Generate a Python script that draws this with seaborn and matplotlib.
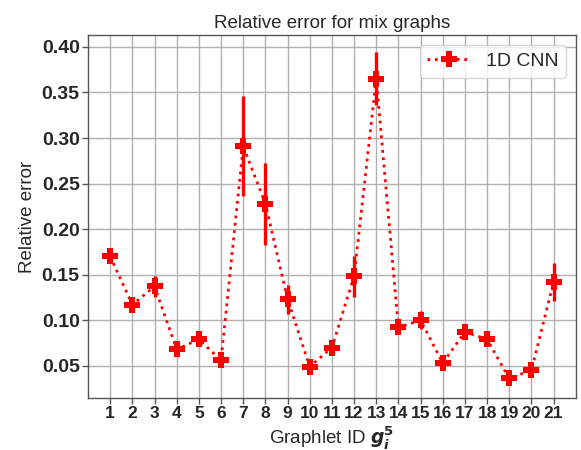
import numpy as np
import pandas as pd
import matplotlib
matplotlib.use("Agg")
import matplotlib.pyplot as plt
import seaborn as sns

graphlet_ids = list(range(1, 22))
rel_error = [0.170, 0.117, 0.137, 0.068, 0.079, 0.056, 0.291, 0.228, 0.123, 0.049,
             0.070, 0.148, 0.365, 0.092, 0.100, 0.053, 0.087, 0.079, 0.036, 0.045, 0.142]
err = [0.005, 0.006, 0.012, 0.005, 0.005, 0.005, 0.055, 0.045, 0.016, 0.004,
       0.004, 0.023, 0.029, 0.007, 0.010, 0.004, 0.005, 0.005, 0.004, 0.005, 0.021]
x_tick_labels = [str(i) for i in graphlet_ids]
y_ticks = [0.05, 0.10, 0.15, 0.20, 0.25, 0.30, 0.35, 0.40]

df = pd.DataFrame({"id": graphlet_ids, "err": rel_error, "sd": err})

sns.set_style("whitegrid")
plt.rcParams['font.family'] = ['Liberation Sans', 'DejaVu Sans']
plt.rcParams['mathtext.fontset'] = 'dejavusans'

fig = plt.figure(figsize=(5.81, 4.5), dpi=100)
ax = fig.add_axes([0.1515, 0.1156, 0.8395, 0.8064])

ax.errorbar(df["id"], df["err"], yerr=df["sd"], fmt="none", ecolor="red",
            elinewidth=2.4, capsize=0, zorder=3)
sns.lineplot(data=df, x="id", y="err", ax=ax, color="red", linestyle=":",
             linewidth=2, marker="P", markersize=11.5, markeredgewidth=0,
             label="1D CNN", zorder=4)

ax.set_xlim(0, 22)
ax.set_ylim(0.0146, 0.413)
ax.set_xticks(graphlet_ids)
ax.set_xticklabels(x_tick_labels, fontsize=12.5, fontweight="bold")
ax.set_yticks(y_ticks)
ax.set_yticklabels([f"{v:.2f}" for v in y_ticks], fontsize=14, fontweight="bold")
ax.tick_params(axis="both", which="both", length=4, width=1, color="#555555",
               bottom=True, left=True, pad=2)
ax.grid(True, color="#b0b0b0", linewidth=1)
for s in ax.spines.values():
    s.set_edgecolor("#555555")
    s.set_linewidth(1)

ax.set_title("Relative error for mix graphs", fontsize=13.5, pad=5)
ax.set_xlabel(r"Graphlet ID $\mathbfit{g}_{\mathbfit{i}}^{\mathbf{5}}$", fontsize=13.5, labelpad=2)
ax.set_ylabel("Relative error", fontsize=13.5, labelpad=4)
ax.legend(loc="upper right", fontsize=14, frameon=True, handlelength=2.2)

fig.savefig("out.png", dpi=100)
